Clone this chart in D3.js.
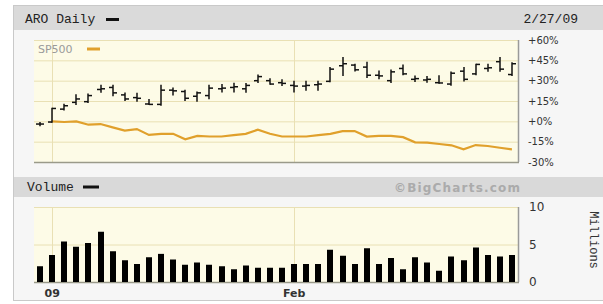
<!DOCTYPE html>
<html>
<head>
<meta charset="utf-8">
<script src="https://cdn.jsdelivr.net/npm/d3@7"></script>
<style>
  body { margin: 0; background: #fff; }
  svg { display: block; }
</style>
</head>
<body>
<div id="chart"></div>
<script>
// data: Dec 31 2008 .. Feb 27 2009, % change and volume (millions)
var days = ["12/31","1/2","1/5","1/6","1/7","1/8","1/9","1/12","1/13","1/14","1/15","1/16",
            "1/20","1/21","1/22","1/23","1/26","1/27","1/28","1/29","1/30",
            "2/2","2/3","2/4","2/5","2/6","2/9","2/10","2/11","2/12","2/13",
            "2/17","2/18","2/19","2/20","2/23","2/24","2/25","2/26","2/27"];
var aroOpen  = [-2,-0.5,9,14,14.5,23.5,25,19.5,17.5,12.8,12.5,23,22,18.5,19,24,25,24,30,30,28.5,
                26.5,26,27,29.5,41,41.5,40,34,30,39,31,30.5,28.5,27.5,37,35,39,44,34.5];
var aroHigh  = [-0.5,10,13,20,20.5,27,27,21.3,21,16.5,27,25,23.3,22,27,27.5,28.5,28.3,34.5,31.8,31,
                30,30,30,40,47.5,42.5,44,37.5,38.3,42,33.8,33.5,34,36.8,40,42.5,42.5,47.5,43.5];
var aroLow   = [-3.7,-1,8,12,13.5,21,18.5,15,14.5,12,11.5,19,15,14.5,16.3,21.3,21.3,21,28.3,27,26,
                21.3,22.5,22.5,28.8,33.5,36.8,32,31,28.3,34,29,28.5,27.8,26.3,29.3,34,36.5,36.5,33.5];
var aroClose = [-2,9.5,11.5,16.5,19,24,21,16.5,17,12.5,23,22.5,17,21,24.5,24.5,25.5,26.5,33,27.5,28,
                26,26.5,27.5,38.5,42.5,38,34,33.5,36.5,35,31.5,31,28.3,35.5,31,42,39.5,38.5,42.5];
var sp500    = [null,0,-0.5,0,-2.5,-2,-4.5,-6.8,-5.7,-10,-9.2,-9.2,-13.2,-10.7,-11.2,-11.2,-10.2,-9.2,-6.2,-9.2,-11.2,
                -11.2,-11.2,-10.2,-9.2,-7.2,-7.2,-11.2,-10.7,-10.7,-11.7,-15.5,-15.7,-16.7,-17.7,-20.7,-17.5,-18.2,-19.5,-20.7];
var volume   = [2.1,3.6,5.4,4.7,5.2,6.7,4.1,2.9,2.4,3.3,3.75,3.0,2.3,2.6,2.3,2.1,1.7,2.2,1.9,1.9,1.9,
                2.4,2.4,2.4,4.3,3.5,2.4,4.5,2.4,3.2,1.7,3.3,2.6,1.5,3.4,2.9,4.6,3.6,3.4,3.6];
var pctTicks = [-30,-15,0,15,30,45,60];
var volTicks = [0,5,10];
var monthLabels = [{day:"1/2", text:"09"}, {day:"2/2", text:"Feb"}];

// setup
var w = 603, h = 304;
var left = 34, right = 518;
var pTop = 40, pBot = 162;
var vTop = 207, vBot = 282;
var cream = "#fdfbe7", grid = "#e9e0b4";
var mono = "'Liberation Mono', 'DejaVu Sans Mono', monospace";
var sans = "'DejaVu Sans', Verdana, sans-serif";

var svg = d3.select("#chart").append("svg")
    .attr("width", w).attr("height", h);

// panel + bands
svg.append("rect").attr("x", 13.5).attr("y", 5.5).attr("width", 600).attr("height", 295)
    .attr("fill", "#f6f6f6").attr("stroke", "#c9c9c9");
svg.append("rect").attr("x", 14).attr("y", 6).attr("width", 589).attr("height", 24).attr("fill", "#dadada");
svg.append("rect").attr("x", 14).attr("y", 177).attr("width", 589).attr("height", 20).attr("fill", "#d9d9d9");

var x = d3.scaleBand().domain(days).range([left, right]);
var cx = function(d){ return x(d) + x.bandwidth() / 2; };
var y = d3.scaleLinear().domain([-30, 60]).range([pBot, pTop]);
var yv = d3.scaleLinear().domain([0, 10]).range([vBot, vTop]);

// plot backgrounds
[[pTop, pBot], [vTop, vBot]].forEach(function(r){
    svg.append("rect").attr("x", left).attr("y", r[0]).attr("width", right - left).attr("height", r[1] - r[0])
        .attr("fill", cream);
});

// horizontal grid
svg.append("g").selectAll("line").data(pctTicks).join("line")
    .attr("x1", left).attr("x2", right)
    .attr("y1", function(d){ return y(d) + 0.5; }).attr("y2", function(d){ return y(d) + 0.5; })
    .attr("stroke", grid);
svg.append("g").selectAll("line").data(volTicks).join("line")
    .attr("x1", left).attr("x2", right)
    .attr("y1", function(d){ return yv(d) + 0.5; }).attr("y2", function(d){ return yv(d) + 0.5; })
    .attr("stroke", grid);

// vertical month grid
monthLabels.forEach(function(m){
    [[pTop, pBot], [vTop, vBot]].forEach(function(r){
        svg.append("line").attr("x1", Math.round(cx(m.day)) + 0.5).attr("x2", Math.round(cx(m.day)) + 0.5)
            .attr("y1", r[0]).attr("y2", r[1]).attr("stroke", grid);
    });
});

// plot frames (shadow on bottom/right)
[[pTop, pBot], [vTop, vBot]].forEach(function(r){
    svg.append("line").attr("x1", left).attr("x2", right + 1).attr("y1", r[1] + 0.5).attr("y2", r[1] + 0.5)
        .attr("stroke", "#9a9a8a").attr("stroke-width", 1.5);
    svg.append("line").attr("x1", right + 0.5).attr("x2", right + 0.5).attr("y1", r[0]).attr("y2", r[1])
        .attr("stroke", "#9a9a9a").attr("stroke-width", 1.5);
});

// SP500 line
var line = d3.line()
    .defined(function(d){ return d != null; })
    .x(function(d, i){ return cx(days[i]); })
    .y(function(d){ return y(d); });
svg.append("path").datum(sp500)
    .attr("d", line)
    .attr("fill", "none").attr("stroke", "#e0a02c").attr("stroke-width", 2.2);

// ARO OHLC bars
var bars = svg.append("g").selectAll("g").data(days).join("g")
    .attr("stroke", "#111").attr("stroke-width", 1.5);
bars.append("line")
    .attr("x1", function(d){ return Math.round(cx(d)); }).attr("x2", function(d){ return Math.round(cx(d)); })
    .attr("y1", function(d, i){ return y(aroHigh[i]); }).attr("y2", function(d, i){ return y(aroLow[i]); });
bars.append("line")
    .attr("x1", function(d){ return Math.round(cx(d)) - 4; }).attr("x2", function(d){ return Math.round(cx(d)); })
    .attr("y1", function(d, i){ return y(aroOpen[i]); }).attr("y2", function(d, i){ return y(aroOpen[i]); });
bars.append("line")
    .attr("x1", function(d){ return Math.round(cx(d)); }).attr("x2", function(d){ return Math.round(cx(d)) + 4; })
    .attr("y1", function(d, i){ return y(aroClose[i]); }).attr("y2", function(d, i){ return y(aroClose[i]); });

// volume bars
svg.append("g").selectAll("rect").data(days).join("rect")
    .attr("x", function(d){ return Math.round(cx(d)) - 3; })
    .attr("width", 6)
    .attr("y", function(d, i){ return yv(volume[i]); })
    .attr("height", function(d, i){ return vBot - yv(volume[i]); })
    .attr("fill", "#000");

// axes
var pAxis = d3.axisRight(y).tickValues(pctTicks).tickSize(0).tickPadding(10)
    .tickFormat(function(d){ return (d >= 0 ? "+" : "-") + Math.abs(d) + "%"; });
svg.append("g").attr("transform", "translate(" + right + ",0)").call(pAxis)
    .call(function(g){ g.select(".domain").remove(); })
    .selectAll("text").attr("font-family", sans).attr("font-size", 10).attr("fill", "#333");

var vAxis = d3.axisRight(yv).tickValues(volTicks).tickSize(0).tickPadding(11);
svg.append("g").attr("transform", "translate(" + right + ",0)").call(vAxis)
    .call(function(g){ g.select(".domain").remove(); })
    .selectAll("text").attr("font-family", sans).attr("font-size", 12).attr("fill", "#333");

svg.append("g").selectAll("text").data(monthLabels).join("text")
    .attr("x", function(d){ return cx(d.day); }).attr("y", 297)
    .attr("text-anchor", "middle")
    .attr("font-family", sans).attr("font-size", 11).attr("font-weight", "bold").attr("fill", "#333")
    .text(function(d){ return d.text; });

// titles and legends
svg.append("text").attr("x", 25).attr("y", 23).attr("font-family", mono).attr("font-size", 13)
    .attr("fill", "#222").text("ARO Daily");
svg.append("line").attr("x1", 106).attr("x2", 119).attr("y1", 19.5).attr("y2", 19.5)
    .attr("stroke", "#111").attr("stroke-width", 3);
svg.append("text").attr("x", 578).attr("y", 23).attr("text-anchor", "end").attr("font-family", mono)
    .attr("font-size", 13).attr("fill", "#222").text("2/27/09");

svg.append("text").attr("x", 38).attr("y", 53).attr("font-family", sans).attr("font-size", 11)
    .attr("fill", "#9a9a9a").text("SP500");
svg.append("line").attr("x1", 87).attr("x2", 100).attr("y1", 49).attr("y2", 49)
    .attr("stroke", "#e0a02c").attr("stroke-width", 3);

svg.append("text").attr("x", 27).attr("y", 191).attr("font-family", mono).attr("font-size", 13)
    .attr("fill", "#222").text("Volume");
svg.append("line").attr("x1", 83).attr("x2", 99).attr("y1", 187).attr("y2", 187)
    .attr("stroke", "#111").attr("stroke-width", 3);
svg.append("text").attr("x", 520).attr("y", 192).attr("text-anchor", "end")
    .attr("font-family", sans).attr("font-size", 12).attr("font-weight", "bold")
    .attr("fill", "#ababab").attr("textLength", 126).text("\u00a9BigCharts.com");

svg.append("text").attr("transform", "translate(590,240) rotate(90)")
    .attr("text-anchor", "middle").attr("font-family", mono).attr("font-size", 12)
    .attr("fill", "#333").text("Millions");
</script>
</body>
</html>
